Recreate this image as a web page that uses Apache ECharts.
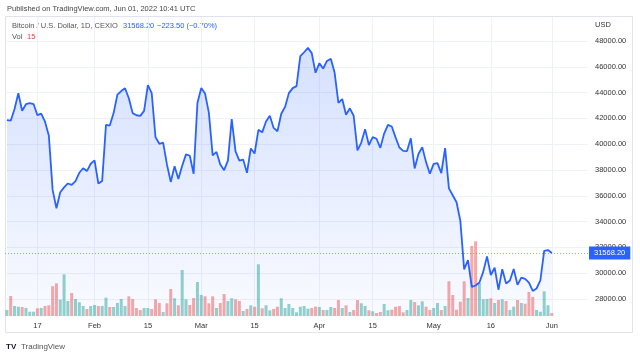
<!DOCTYPE html>
<html>
<head>
<meta charset="utf-8">
<script src="https://cdn.jsdelivr.net/npm/echarts@6/dist/echarts.min.js"></script>
<style>html,body{margin:0;padding:0;background:#fff}#c{width:640px;height:356px}</style>
</head>
<body>
<div id="c"></div>
<script>
// ---- data ----
const startDate = '2022-01-09';
const categoryCount = 153; // Jan 9 .. Jun 10 (time axis runs past the last bar)
const closeValues = [
  41864, 41822, 42735, 43949, 42591, 43099, 43177, 43113, 42250, 42375, 41744, 40680, 36457, 35030, 36276, 36654, 36954, 36852, 37138, 37784, 38138, 37917, 38483,
  38743, 36952, 37154, 41500, 41441, 42412, 43840, 44118, 44338, 43565, 42407, 42244, 42197, 42586, 44575, 43961, 40538, 40030, 40122, 38431, 37075, 38286, 37296, 38332, 39214, 39105, 37709, 43193,
  44354, 43924, 42451, 39137, 39400, 38420, 37988, 38730, 41941, 39439, 38730, 38807, 37777, 39671, 39280, 41114, 40917, 41757, 42201, 41262, 41002, 42364, 42892, 43960, 44348, 44500, 46820, 47128, 47465, 47062, 45538,
  46281, 45868, 46453, 46622, 45555, 43206, 43503, 42287, 42782, 42207, 39521, 40127, 41166, 39936, 40553, 40424, 39716, 40826, 41502, 41374, 40527, 39740, 39486, 39470, 40458, 38118, 39241, 39773, 38609, 37714,
  38469, 38529, 37750, 39698, 36575, 36040, 35501, 34060, 30296, 31022, 28936, 29047, 29283, 30101, 31305, 29862, 30425, 28720, 30314, 29200, 29432, 30323, 29098, 29655, 29562, 29267, 28627, 28814, 29445, 31726, 31792,
  31568.20
];
const volumeValues = [
  6, 20, 10, 9.3, 9, 8, 4.3, 4.3, 7.7, 8, 10, 10.7, 29.7, 32.7, 16.3, 41.7, 15, 23, 17, 13.7, 10, 7, 10, 11, 10, 10, 18.3, 9, 9, 13, 17, 10, 19.7, 17, 8, 6, 8, 8,
  7, 16.7, 13, 4, 12.7, 27, 17.7, 10.7, 46, 16.7, 11, 18, 34, 21, 19.7, 12.7, 19.7, 8, 13, 22, 15, 17.7, 16.7, 15, 5, 7, 10.7, 9.3, 51.7, 7.7, 10.7, 5.7, 7, 9.3, 17.7, 8, 12, 8,
  3.7, 9.3, 10, 7.3, 8, 9.3, 9, 6, 6, 9, 8, 16, 8, 10.7, 4, 6, 16, 12.7, 10, 5.7, 4.7, 3, 4, 12, 5.7, 6.3, 9.3, 10, 3.7, 6, 16, 14, 10.7, 14.7, 9.3, 6, 8, 13, 6,
  10, 34.7, 21, 6.3, 14.3, 34.7, 18, 70, 74.7, 33, 16.7, 17, 17.7, 13, 16, 16.7, 15, 6, 9.3, 16, 13, 12.3, 24, 19, 6, 4.3, 24.7, 10.7, 3
];
const volumeUpDown = [
  'u','d','u','u','d','u','u','u','d','u','d','d','d','d','u','u','u','d','u','u','u','d','u','u','d','u','u','d','u','u','u','u','d','d','d','d','u','u',
  'd','d','d','u','d','d','u','d','u','u','d','d','u','u','d','d','d','u','d','d','u','u','d','d','u','d','u','d','u','d','u','u','d','d','u','u','u','u',
  'u','u','u','u','d','d','u','d','u','u','d','d','u','d','u','d','d','u','u','d','u','d','d','u','u','d','d','d','d','u','u','d','u','u','d','d','u','u','d',
  'u','d','d','d','d','d','u','d','d','u','u','u','d','u','d','u','d','u','u','d','u','d','d','d','u','u','u','u','d'
];
const xTickDates = ['2022-01-17','2022-02-01','2022-02-15','2022-03-01','2022-03-15','2022-04-01','2022-04-15','2022-05-01','2022-05-16','2022-06-01'];
const xTickLabels = ['17','Feb','15','Mar','15','Apr','15','May','16','Jun'];
const priceAxisMin = 28000, priceAxisMax = 48000, priceAxisStep = 2000;
const lastPrice = 31568.20;
const headerSource = 'Published on TradingView.com, Jun 01, 2022 10:41 UTC';
const headerTitle = 'Bitcoin / U.S. Dollar, 1D, CEXIO';
const headerPrice = '31568.20';
const headerChange = '\u2212223.50 (\u22120.70%)';
const volLabel = 'Vol', volValue = '15';

// ---- build ----
const dates = [];
{
  const d0 = new Date(startDate + 'T00:00:00Z');
  for (let i = 0; i < categoryCount; i++) {
    const d = new Date(d0.getTime() + i * 86400000);
    dates.push(d.toISOString().slice(0, 10));
  }
}
const tickIndex = {};
xTickDates.forEach((d, k) => { tickIndex[dates.indexOf(d)] = xTickLabels[k]; });
const isTick = (i) => Object.prototype.hasOwnProperty.call(tickIndex, i);

const FONT = 'Liberation Sans';
const UP = 'rgba(38,166,154,0.5)', DOWN = 'rgba(239,83,80,0.5)';

// pane geometry: plot y 17..316, price 48000 at y=41 and 28000 at y=299
const paneTop = 17, paneBottom = 316, labTop = 41, labBottom = 299;
const pxPerUnit = (labBottom - labTop) / (priceAxisMax - priceAxisMin);
const paneMin = priceAxisMin - (paneBottom - labBottom) / pxPerUnit;
const paneMax = priceAxisMax + (labTop - paneTop) / pxPerUnit;

const chart = echarts.init(document.getElementById('c'), null, {renderer: 'canvas'});
chart.setOption({
  animation: false,
  backgroundColor: '#ffffff',
  textStyle: {fontFamily: FONT},
  grid: [
    {left: 5, right: 52, top: paneTop, bottom: 356 - paneBottom},
    {left: 5, right: 52, top: labTop, bottom: 356 - labBottom}
  ],
  xAxis: [
    {
      type: 'category', gridIndex: 0, data: dates, boundaryGap: true,
      axisLine: {show: false}, axisTick: {show: false, alignWithLabel: true, interval: isTick},
      axisLabel: {interval: isTick, formatter: (v, i) => tickIndex[i] || '', color: '#333', fontSize: 7.5, margin: 6, fontFamily: FONT},
      splitLine: {show: true, interval: isTick, alignWithLabel: true, lineStyle: {color: '#eef1f8', width: 1}}
    },
    {type: 'value', gridIndex: 1, min: 0, max: 1, show: false}
  ],
  yAxis: [
    {type: 'value', gridIndex: 0, min: paneMin, max: paneMax, show: false, splitLine: {show: false}},
    {type: 'value', gridIndex: 0, min: 0, max: paneBottom - paneTop, show: false, splitLine: {show: false}},
    {
      type: 'value', gridIndex: 1, position: 'right', min: priceAxisMin, max: priceAxisMax, interval: priceAxisStep,
      axisLine: {show: false}, axisTick: {show: false},
      axisLabel: {formatter: v => v.toFixed(2), color: '#333', fontSize: 7.5, margin: 7, fontFamily: FONT},
      splitLine: {show: true, lineStyle: {color: '#eef1f8', width: 1}}
    }
  ],
  series: [
    {
      type: 'bar', xAxisIndex: 0, yAxisIndex: 1, barWidth: 3, z: 1,
      data: volumeValues.map((v, i) => ({value: v, itemStyle: {color: volumeUpDown[i] === 'u' ? UP : DOWN}}))
    },
    {
      type: 'line', xAxisIndex: 0, yAxisIndex: 0, data: closeValues, symbol: 'none', z: 3,
      lineStyle: {color: '#2962ff', width: 1.8},
      areaStyle: {
        origin: 'start',
        color: new echarts.graphic.LinearGradient(0, 0, 0, 1, [
          {offset: 0, color: 'rgba(41,98,255,0.28)'},
          {offset: 1, color: 'rgba(41,98,255,0.04)'}
        ])
      },
      markLine: {
        silent: true, symbol: 'none', animation: false,
        lineStyle: {color: 'rgba(41,98,255,0.55)', type: [1, 2], width: 1},
        label: {
          position: 'end', distance: 1, formatter: () => lastPrice.toFixed(2),
          backgroundColor: '#2962ff', color: '#ffffff', padding: [2, 5], fontSize: 7.5, lineHeight: 9, fontFamily: FONT
        },
        data: [{yAxis: lastPrice}]
      }
    }
  ],
  graphic: [
    {type: 'rect', shape: {x: 5.5, y: 16.5, width: 627, height: 316}, style: {fill: 'none', stroke: '#e0e3eb', lineWidth: 1}, z: -1, silent: true},
    {type: 'text', x: 7, y: 8.5, style: {text: headerSource, fill: '#444', font: '7.5px "' + FONT + '"', textVerticalAlign: 'middle'}},
    {type: 'text', x: 12, y: 26, style: {text: headerTitle, fill: '#555', font: '7.5px "' + FONT + '"', textVerticalAlign: 'middle'}},
    {type: 'text', x: 123, y: 26, style: {text: headerPrice, fill: '#2962ff', font: '7.5px "' + FONT + '"', textVerticalAlign: 'middle'}},
    {type: 'text', x: 157, y: 26, style: {text: headerChange, fill: '#2962ff', font: '7.5px "' + FONT + '"', textVerticalAlign: 'middle'}},
    {type: 'text', x: 12, y: 36.5, style: {text: volLabel, fill: '#555', font: '7.5px "' + FONT + '"', textVerticalAlign: 'middle'}},
    {type: 'text', x: 27, y: 36.5, style: {text: volValue, fill: '#f23645', font: '7.5px "' + FONT + '"', textVerticalAlign: 'middle'}},
    {type: 'text', x: 595, y: 25, style: {text: 'USD', fill: '#333', font: '7.5px "' + FONT + '"', textVerticalAlign: 'middle'}},
    {type: 'text', x: 6, y: 347, style: {text: 'TV', fill: '#131722', font: 'bold 8px "' + FONT + '"', textVerticalAlign: 'middle'}},
    {type: 'text', x: 21, y: 347, style: {text: 'TradingView', fill: '#555', font: '8px "' + FONT + '"', textVerticalAlign: 'middle'}}
  ]
});
</script>
</body>
</html>
